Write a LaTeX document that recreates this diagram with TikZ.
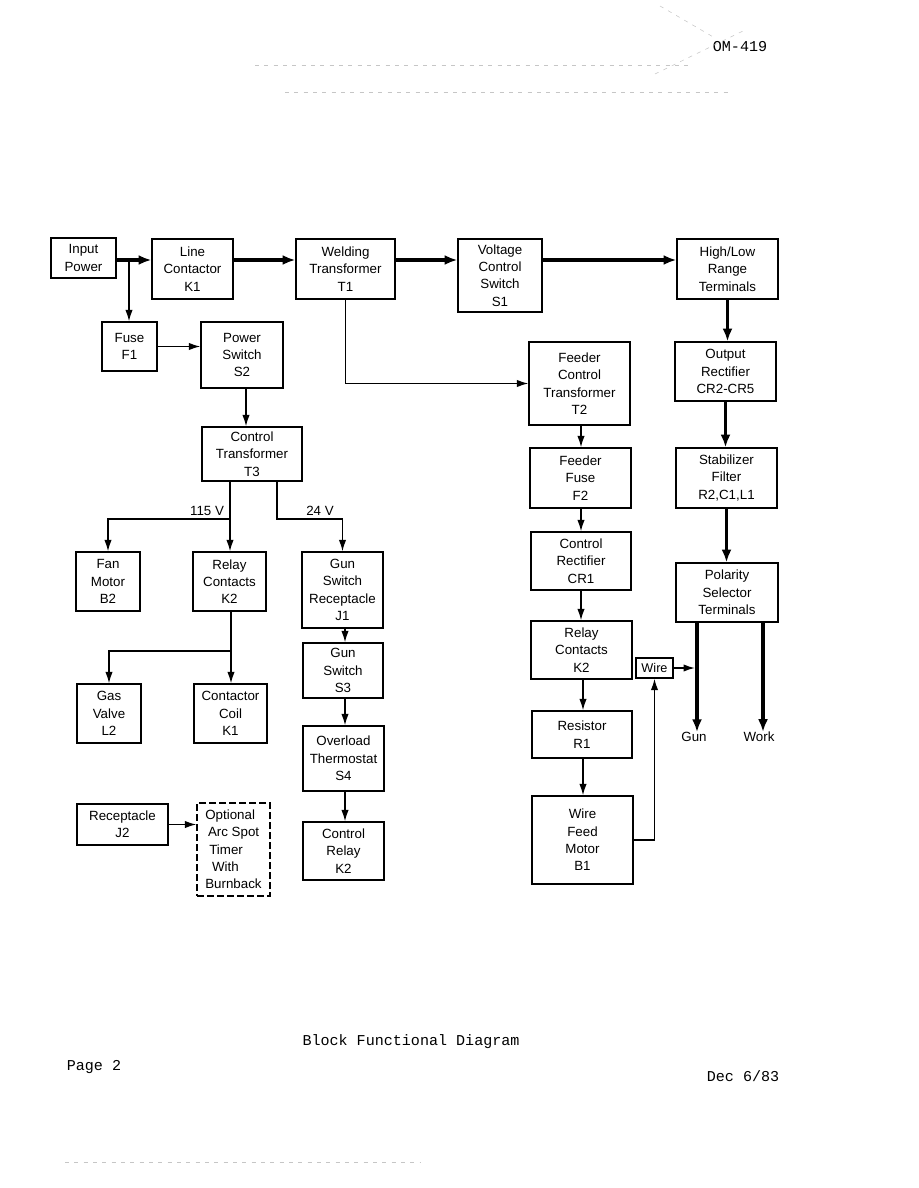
\documentclass[tikz,border=0pt]{standalone}
\usepackage{fontspec}
\setmainfont{Liberation Sans}
\newfontfamily\twfont{Liberation Mono}
\usetikzlibrary{calc,arrows.meta}
\newcommand\bk[6]{\node[box,minimum width={(#4-#2)*0.75pt},minimum height={(#5-#3)*0.75pt}] (#1) at ({(#2+#4)/2},{(#3+#5)/2}) {#6};}
\begin{document}
\begin{tikzpicture}[x=0.75pt,y=-0.75pt,
  box/.style={draw,line width=1.1pt,inner sep=0pt,align=center,font=\fontsize{10}{13}\selectfont},
  ln/.style={line width=1pt},
  thin/.style={line width=1pt,-{Latex[length=8.5pt,width=5.5pt]}},
  thk/.style={line width=2.8pt,-{Latex[length=9.5pt,width=7.5pt]}},
  lbl/.style={inner sep=0pt,font=\fontsize{10}{13}\selectfont},
  foot/.style={inner sep=0pt,font=\twfont\fontsize{11.3}{13}\selectfont},
  artf/.style={gray!45,line width=0.4pt,dash pattern=on 3pt off 4pt}]
\fill[white] (0,0) rectangle (918,1188);
\path[use as bounding box] (0,0) rectangle (918,1188);
% blocks
\bk{inp}{51}{238}{116}{278}{Input\\Power}
\bk{lc}{152}{239}{233}{299}{Line\\Contactor\\K1}
\bk{wt}{296}{239}{395}{299}{Welding\\Transformer\\T1}
\bk{vc}{458}{239}{542}{312}{Voltage\\Control\\Switch\\S1}
\bk{hl}{677}{239}{778}{299}{High/Low\\Range\\Terminals}
\bk{fuse}{102}{322}{157}{371}{Fuse\\F1}
\bk{ps}{201}{322}{283}{388}{Power\\Switch\\S2}
\bk{fct}{529}{342}{630}{425}{Feeder\\Control\\Transformer\\T2}
\bk{orr}{675}{342}{776}{401}{Output\\Rectifier\\CR2-CR5}
\bk{ct}{202}{427}{302}{481}{Control\\Transformer\\T3}
\bk{ff}{530}{448}{631}{508}{Feeder\\Fuse\\F2}
\bk{sf}{676}{448}{777}{508}{Stabilizer\\Filter\\R2,C1,L1}
\bk{fan}{76}{552}{140}{611}{Fan\\Motor\\B2}
\bk{rc}{193}{552}{266}{611}{Relay\\Contacts\\K2}
\bk{gsr}{302}{552}{383}{628}{Gun\\Switch\\Receptacle\\J1}
\bk{cr}{531}{532}{631}{590}{Control\\Rectifier\\CR1}
\bk{pol}{676}{563}{778}{622}{Polarity\\Selector\\Terminals}
\bk{rctwo}{531}{621}{632}{679}{Relay\\Contacts\\K2}
\node[box,minimum width={37*0.75pt},minimum height={20*0.75pt},font=\fontsize{9.5}{12}\selectfont] (wire) at (654.5,668) {Wire};
\bk{gs}{303}{643}{383}{698}{Gun\\Switch\\S3}
\bk{gv}{77}{684}{141}{743}{Gas\\Valve\\L2}
\bk{cc}{194}{684}{267}{743}{Contactor\\Coil\\K1}
\bk{rone}{532}{711}{632}{758}{Resistor\\R1}
\bk{ot}{303}{726}{384}{791}{Overload\\Thermostat\\S4}
\bk{jtwo}{77}{804}{168}{845}{Receptacle\\J2}
\node[box,dash pattern=on 5pt off 2.5pt,align=left,minimum width={73*0.75pt},minimum height={93*0.75pt}] (opt) at (233.5,849.5) {Optional\\\hspace{2pt}Arc Spot\\\hspace{3pt}Timer\\\hspace{5pt}With\\Burnback};
\bk{crl}{303}{822}{384}{880}{Control\\Relay\\K2}
\bk{wfm}{532}{796}{633}{884}{Wire\\Feed\\Motor\\B1}
% power path
\coordinate (pw) at (0,260);
\draw[thk] (inp.east|-pw) -- (lc.west|-pw);
\draw[thk] (lc.east|-pw) -- (wt.west|-pw);
\draw[thk] (wt.east|-pw) -- (vc.west|-pw);
\draw[thk,line width=2.4pt] (vc.east|-pw) -- (hl.west|-pw);
\draw[thk] (hl.south) -- (hl.south|-orr.north);
\draw[thk] (orr.south) -- (orr.south|-sf.north);
\draw[thk] (sf.south) -- (sf.south|-pol.north);
\node[lbl] (gun) at (694,737) {Gun};
\node[lbl] (work) at (759,737) {Work};
\coordinate (gunx) at (697,0);
\coordinate (workx) at (763,0);
\draw[thk] (gunx|-pol.south) -- (gunx|-gun.north);
\draw[thk] (workx|-pol.south) -- (workx|-work.north);
% control side
\coordinate (fx) at (129,0);
\draw[thin] (fx|-pw) -- (fx|-fuse.north);
\draw[thin] (fuse.east) -- (fuse.east-|ps.west);
\coordinate (px) at (246,0);
\draw[thin] (px|-ps.south) -- (px|-ct.north);
\coordinate (bone) at (230,519);
\coordinate (btwo) at (277,519);
\draw[ln] (ct.south-|bone) -- (bone);
\draw[thin] (bone) -| (fan.north);
\draw[thin] (bone) -- (bone|-rc.north);
\draw[thin] (ct.south-|btwo) -- (btwo) -| (gsr.north);
\node[lbl,anchor=south] (vhi) at (207,516) {115 V};
\node[lbl,anchor=south] (vlo) at (320,516) {24 V};
\coordinate (bthree) at (231,651);
\draw[ln] (rc.south-|bthree) -- (bthree);
\draw[thin] (bthree) -| (gv.north);
\draw[thin] (bthree) -- (bthree|-cc.north);
\coordinate (gx) at (345,0);
\draw[thin] (gx|-gsr.south) -- (gx|-gs.north);
\draw[thin] (gx|-gs.south) -- (gx|-ot.north);
\draw[thin] (gx|-ot.south) -- (gx|-crl.north);
\draw[thin] (jtwo.east) -- (jtwo.east-|opt.west);
% feeder side
\draw[thin] (wt.south) |- (fct.west);
\coordinate (fcx) at (581,0);
\draw[thin] (fcx|-fct.south) -- (fcx|-ff.north);
\draw[thin] (fcx|-ff.south) -- (fcx|-cr.north);
\draw[thin] (fcx|-cr.south) -- (fcx|-rctwo.north);
\coordinate (fdx) at (583,0);
\draw[thin] (fdx|-rctwo.south) -- (fdx|-rone.north);
\draw[thin] (fdx|-rone.south) -- (fdx|-wfm.north);
\draw[thin] (wfm.east) -| (wire.south);
\draw[thin,shorten >=1.6pt] (wire.east) -- (gunx|-wire.east);
% page texts
\node[foot] (om) at (740,47) {OM-419};
\node[foot] (title) at (411,1042) {Block Functional Diagram};
\node[foot] (page) at (94,1067) {Page 2};
\node[foot] (date) at (743,1076) {Dec 6/83};
% scan artefacts
\draw[artf] (255,65) -- (690,65);
\draw[artf] (285,92) -- (730,92);
\draw[artf] (660,6) -- (715,38);
\draw[artf] (655,74) -- (745,30);
\draw[artf] (65,1162) -- (420,1162);
\end{tikzpicture}
\end{document}
